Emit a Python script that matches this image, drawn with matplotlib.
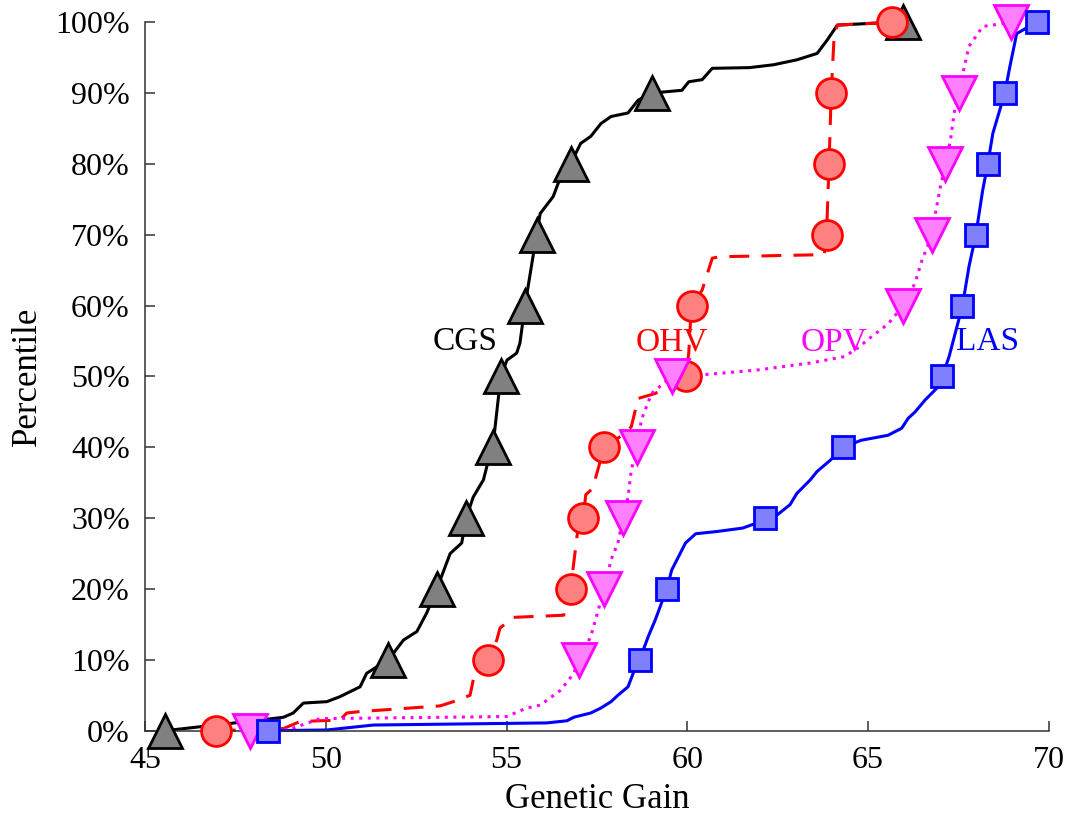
import numpy as np
import matplotlib.pyplot as plt

plt.rcParams['font.family'] = ['Liberation Serif', 'DejaVu Serif']

# percentile levels where markers sit
pct = [0, 10, 20, 30, 40, 50, 60, 70, 80, 90, 100]

# CGS
cgs_mark = [45.55, 51.73, 53.07, 53.88, 54.62, 54.84, 55.51, 55.83, 56.77, 59.01, 65.97]
cgs_x = [45.55, 48.18, 48.83, 49.10, 49.38, 50.03, 50.39, 50.67, 50.95, 51.13, 51.50, 51.73,
         52.15, 52.52, 52.79, 53.07, 53.44, 53.76, 53.88, 54.08, 54.36, 54.50, 54.62, 54.84,
         55.01, 55.28, 55.37, 55.51, 55.83, 55.93, 56.29, 56.43, 56.77, 57.05, 57.33, 57.61,
         57.89, 58.36, 58.64, 59.01, 59.85, 60.04, 60.41, 60.69, 61.72, 62.38, 63.03, 63.59,
         63.87, 64.15, 65.27, 65.97]
cgs_y = [0, 1.5, 1.9, 2.5, 3.9, 4.1, 4.8, 5.5, 6.2, 8.1, 9.3, 10,
         12.8, 14.0, 16.6, 20, 25.0, 26.5, 30, 33.0, 35.4, 38.2, 40, 50,
         52.3, 53.3, 54.7, 60, 70, 73.0, 75.4, 77.3, 80, 82.9, 83.9, 85.7,
         86.7, 87.2, 89.0, 90, 90.4, 91.6, 91.9, 93.5, 93.6, 94.0, 94.7, 95.6,
         97.5, 99.6, 99.9, 100]

# OHV
ohv_mark = [46.96, 54.48, 56.77, 57.12, 57.70, 59.95, 60.13, 63.85, 63.92, 63.98, 65.65]
ohv_x = [46.96, 48.83, 49.29, 50.39, 50.58, 50.95, 53.16, 53.53, 53.99, 54.08, 54.48,
         54.73, 54.82, 55.19, 56.58, 56.77, 56.96, 57.12, 57.19, 57.38, 57.70, 58.17,
         58.45, 58.64, 59.11, 59.95, 60.04, 60.09, 60.13, 60.41, 60.69, 60.88, 63.78,
         63.82, 63.85, 63.92, 63.98, 64.06, 64.15, 65.65]
ohv_y = [0, 0.3, 1.3, 1.5, 2.5, 2.7, 3.5, 4.1, 5.0, 7.2, 10,
         12.8, 14.5, 16.0, 16.3, 20, 27.9, 30, 33.3, 34.2, 40, 41.6,
         42.9, 46.9, 47.6, 50, 53.3, 58.0, 60, 62.2, 66.7, 66.9, 67.2,
         68.1, 70, 80, 90, 98.0, 99.6, 100]

# OPV
opv_mark = [47.90, 57.00, 57.70, 58.22, 58.61, 59.57, 65.97, 66.77, 67.14, 67.51, 68.96]
opv_x = [47.90, 49.01, 49.84, 55.00, 55.56, 55.93, 56.49, 56.86, 57.00, 57.33, 57.70,
         57.89, 58.08, 58.22, 58.36, 58.45, 58.61, 58.73, 59.01, 59.57, 60.32, 61.91,
         63.40, 64.34, 64.71, 65.09, 65.55, 65.97, 66.30, 66.49, 66.77, 66.86, 67.00,
         67.14, 67.28, 67.38, 67.51, 67.66, 67.79, 68.17, 68.96]
opv_y = [0, 0.2, 1.7, 2.0, 3.2, 3.6, 5.7, 8.1, 10, 13.3, 20,
         24.1, 26.5, 30, 33.0, 36.8, 40, 43.9, 47.6, 50, 50.2, 50.9,
         51.9, 52.8, 54.0, 55.6, 57.4, 60, 63.2, 66.4, 70, 73.0, 76.8,
         80, 83.4, 87.2, 90, 93.7, 96.6, 99.4, 100]

# LAS
las_mark = [48.39, 58.68, 59.43, 62.14, 64.31, 67.05, 67.61, 67.98, 68.31, 68.78, 69.66]
las_x = [48.39, 50.03, 50.39, 51.32, 56.11, 56.67, 56.86, 57.33, 57.61, 57.89, 58.08,
         58.36, 58.54, 58.68, 58.92, 59.11, 59.43, 59.57, 59.76, 59.95, 60.23, 60.79,
         61.53, 61.91, 62.14, 62.47, 62.84, 63.03, 63.40, 63.59, 63.96, 64.31, 64.81,
         65.55, 65.93, 66.11, 66.30, 66.58, 66.95, 67.05, 67.24, 67.61, 67.79, 67.98,
         68.17, 68.31, 68.45, 68.78, 68.92, 69.11, 69.66]
las_y = [0, 0.1, 0.3, 0.8, 1.1, 1.4, 1.9, 2.5, 3.2, 4.1, 5.0,
         6.2, 8.6, 10, 13.3, 15.6, 20, 22.7, 24.6, 26.5, 27.8, 28.1,
         28.6, 29.3, 30, 30.4, 31.9, 33.5, 35.4, 36.6, 38.2, 40, 41.0,
         41.7, 42.7, 44.1, 45.0, 46.7, 48.6, 50, 52.8, 60, 65.5, 70,
         76.3, 80, 84.3, 90, 93.7, 98.4, 100]

labels = ['CGS', 'OHV', 'OPV', 'LAS']
label_x = [53.85, 59.57, 64.06, 68.31]
label_y = 54.9

fig = plt.figure(figsize=(10.67, 8.25), dpi=100)
ax = fig.add_axes([0.1359, 0.1143, 0.983 - 0.1359, 0.973 - 0.1143])

series = [
    (cgs_x, cgs_y, cgs_mark, 'black', dict(linestyle='-'), '^', '#808080', 'black', 24),
    (ohv_x, ohv_y, ohv_mark, 'red', dict(dashes=(6.5, 4)), 'o', '#ff8080', 'red', 21.5),
    (opv_x, opv_y, opv_mark, 'magenta', dict(dashes=(1, 1.8)), 'v', '#ff80ff', 'magenta', 24),
    (las_x, las_y, las_mark, 'blue', dict(linestyle='-'), 's', '#8080ff', 'blue', 16.5),
]
for (xs, ys, xm, col, ls, mk, face, edge, ms), lab, lx in zip(series, labels, label_x):
    ax.plot(xs, ys, color=col, lw=2.2, clip_on=False, **ls)
    ax.plot(xm, pct, linestyle='none', marker=mk, ms=ms, mfc=face, mec=edge, mew=2,
            clip_on=False, zorder=3)
    ax.text(lx, label_y, lab, color=col, fontsize=24, ha='center', va='center')

ax.set_xlim(45, 70)
ax.set_ylim(0, 100)
ax.set_xticks([45, 50, 55, 60, 65, 70])
ax.set_yticks(pct)
ax.set_yticklabels([f'{p}%' for p in pct])
ax.tick_params(direction='in', length=7, width=1.1, labelsize=23, pad=11, color='#333333')
for s in ['top', 'right']:
    ax.spines[s].set_visible(False)
for s in ['left', 'bottom']:
    ax.spines[s].set_linewidth(1.1)
    ax.spines[s].set_color('#333333')

ax.set_xlabel('Genetic Gain', fontsize=25, labelpad=6)
ax.set_ylabel('Percentile', fontsize=25, labelpad=8)

plt.savefig('out.png', dpi=100)
